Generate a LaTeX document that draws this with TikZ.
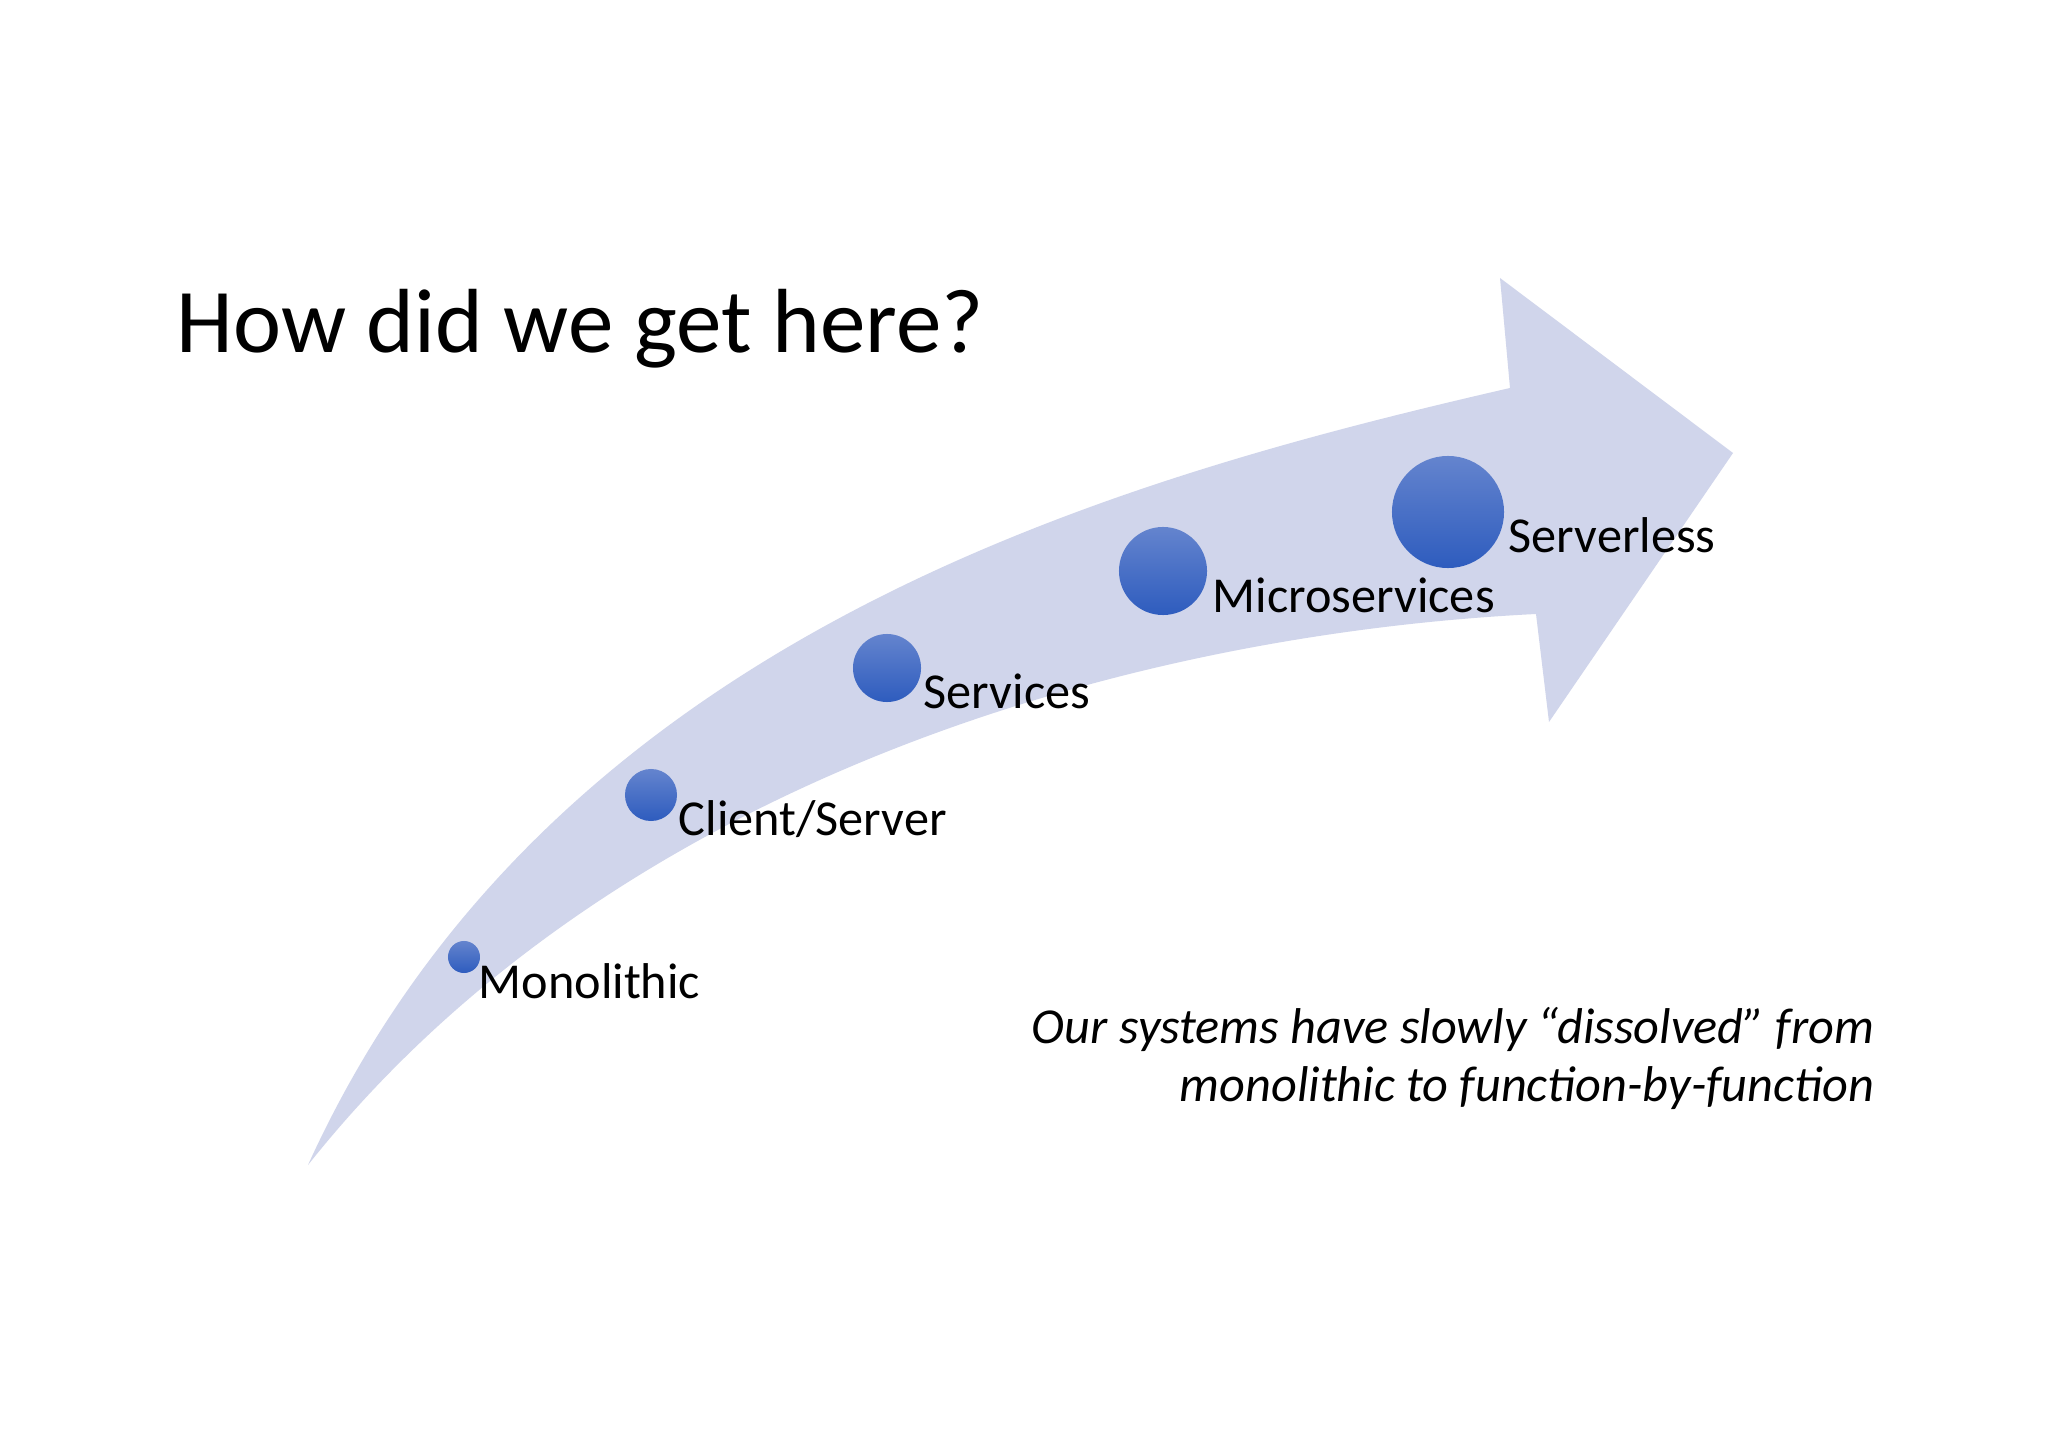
\documentclass[tikz,border=0pt]{standalone}
\usepackage{fontspec}
\setmainfont{Carlito}
\definecolor{arrowfill}{RGB}{208,213,235}
\definecolor{circtop}{RGB}{100,132,206}
\definecolor{circbot}{RGB}{46,92,190}
\tikzset{
  stage/.style={circle, inner sep=0pt, draw=none, top color=circtop, bottom color=circbot, shading angle=0},
  stagelabel/.style={anchor=base west, inner sep=0pt, text=black, font=\fontsize{14.3pt}{17pt}\selectfont},
  notetext/.style={anchor=base east, inner sep=0pt, text=black, font=\fontsize{14.3pt}{17pt}\selectfont\itshape},
  titletext/.style={anchor=base west, inner sep=0pt, text=black, font=\fontsize{25.9pt}{30pt}\selectfont}
}
\begin{document}
\begin{tikzpicture}[x=0.01cm, y=-0.01cm]
\useasboundingbox[fill=white] (0,0) rectangle (2048,1449);

% title
\node[titletext] (title) at (176,353) {How did we get here?};

% curved arrow
\fill[arrowfill]
  (308,1165) .. controls (548,637) and (1110,480) .. (1510,388)
  -- (1500,278) -- (1733,453) -- (1549,722) -- (1536,614)
  .. controls (1116,635) and (608,787) .. (308,1165) -- cycle;

% stages
\node[stage, minimum size=0.32cm] (mono) at (464,957) {};
\node[stage, minimum size=0.52cm] (cs) at (651,795) {};
\node[stage, minimum size=0.68cm] (svc) at (887,668) {};
\node[stage, minimum size=0.88cm] (micro) at (1163,571) {};
\node[stage, minimum size=1.12cm] (sless) at (1448,512) {};

\node[stagelabel] (monolbl) at (478,998) {Monolithic};
\node[stagelabel] (cslbl) at (678,835) {Client/Server};
\node[stagelabel] (svclbl) at (923,708) {Services};
\node[stagelabel] (microlbl) at (1212,613) {Microservices};
\node[stagelabel] (slesslbl) at (1508,553) {Serverless};

% note
\node[notetext] (note1) at (1875,1043) {Our systems have slowly “dissolved” from};
\node[notetext] (note2) at (1875,1101) {monolithic to function-by-function};
\end{tikzpicture}
\end{document}
